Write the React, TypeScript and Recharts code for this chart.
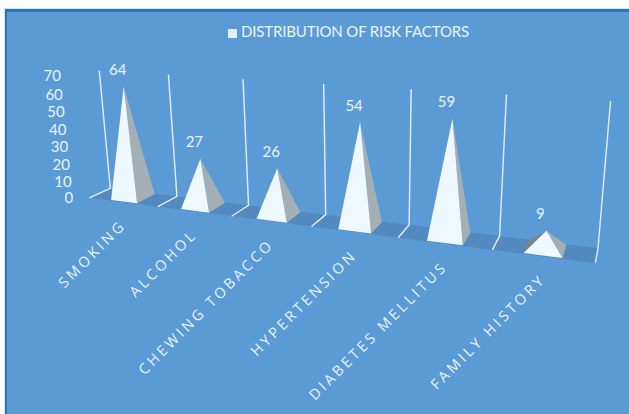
import React from "react";
import { BarChart, Bar, XAxis, YAxis, Legend, LabelList, Customized } from "recharts";

const categories = ["SMOKING", "ALCOHOL", "CHEWING TOBACCO", "HYPERTENSION", "DIABETES MELLITUS", "FAMILY HISTORY"];
const riskCounts = [64, 27, 26, 54, 59, 9];
const valueTicks = [0, 10, 20, 30, 40, 50, 60, 70];
const seriesName = "DISTRIBUTION OF RISK FACTORS";

const rows = categories.map((name, i) => ({ name, count: riskCounts[i] }));

const WIDTH = 629;
const HEIGHT = 414;
const AXIS_SIZE = 1;
const plotLeft = 14;
const plotTop = 60;
const plotWidth = 600;
const plotHeight = 294;
const margin = {
  top: plotTop,
  left: plotLeft - AXIS_SIZE,
  right: WIDTH - plotLeft - plotWidth,
  bottom: HEIGHT - plotTop - plotHeight - AXIS_SIZE,
};
const bandWidth = plotWidth / categories.length;

const FONT = "Lato, 'Open Sans', sans-serif";
const TEXT = "#EAF3FB";
const LINE = "#E3EEF8";

// Perspective camera: u runs along the categories, d from back wall (0) to
// front edge (1), h from floor (0) to top of the value range (1).
function project(u: number, d: number, h: number): [number, number] {
  const w = 1 - 0.03483 * u - 0.0372 * d - 0.0409 * h;
  const x = 110.3 + 60.46 * u - 24.3 * d - 15.06 * h;
  const y = 188.3 + 1.31 * u + 2.2 * d - 120.5 * h;
  return [x / w, y / w];
}

const toU = (px: number) => (px - plotLeft) / bandWidth;
const toH = (py: number) => (plotTop + plotHeight - py) / plotHeight;
const pts = (list: [number, number][]) => list.map((p) => p.join(",")).join(" ");

// Floor strip plus the slanted divider lines on the back wall.
function Walls() {
  const n = categories.length;
  const dividers = Array.from({ length: n + 1 }, (_, u) => u);
  return (
    <g>
      <polygon
        points={pts([project(0, 0, 0), project(n, 0, 0), project(n, 1, 0), project(0, 1, 0)])}
        fill="#5289BF"
      />
      {dividers.map((u) => (
        <polyline
          key={u}
          points={pts([project(u, 0, 1), project(u, 0, 0), project(u, 1, 0)])}
          fill="none"
          stroke={LINE}
          strokeWidth={1.4}
        />
      ))}
    </g>
  );
}

// Square-based pyramid standing on the floor, with its apex at the bar's value.
function Pyramid(props: any) {
  const { x, y, width } = props;
  const u0 = toU(x);
  const u1 = toU(x + width);
  const near = 0.95;
  const far = 0.05;
  const apex = project((u0 + u1) / 2, 0.5, toH(y));
  const fl = project(u0, near, 0);
  const fr = project(u1, near, 0);
  const bl = project(u0, far, 0);
  const br = project(u1, far, 0);
  return (
    <g>
      <polygon points={pts([bl, fl, apex])} fill="#7B878E" />
      <polygon points={pts([fr, br, apex])} fill="#A3AEB5" />
      <polygon points={pts([fl, fr, apex])} fill="#EEF9FF" />
    </g>
  );
}

function CategoryTick(props: any) {
  const { x, payload } = props;
  const [px, py] = project(toU(x), 1, 0);
  const tx = px + 4;
  const ty = py + 24;
  return (
    <text
      x={tx}
      y={ty}
      transform={`rotate(-45 ${tx} ${ty})`}
      textAnchor="end"
      fontFamily="'Open Sans', sans-serif"
      fontSize={14.5}
      letterSpacing={3.1}
      fill={TEXT}
    >
      {payload.value}
    </text>
  );
}

function ValueTick(props: any) {
  const { y, payload } = props;
  const [px, py] = project(0, 1, toH(y));
  return (
    <text x={px - 16} y={py + 5.5} textAnchor="end" fontFamily={FONT} fontSize={15} fill={TEXT}>
      {payload.value}
    </text>
  );
}

function ValueLabel(props: any) {
  const { x, y, width, value } = props;
  const [px, py] = project(toU(x + width / 2), 0.5, toH(y));
  return (
    <text x={px - 6} y={py - 11.5} textAnchor="middle" fontFamily={FONT} fontSize={15} fill={TEXT}>
      {value}
    </text>
  );
}

export default function App() {
  return (
    <div style={{ position: "absolute", left: 0, top: 0, width: WIDTH, height: HEIGHT, background: "#fff", overflow: "hidden" }}>
      <div
        style={{
          position: "absolute",
          left: 5,
          top: 9,
          width: 660,
          height: 440,
          background: "#5B9BD5",
          borderTop: "3px solid #2E75B6",
          borderLeft: "2px solid #2E75B6",
          outline: "1px solid #D5E3F0",
          boxSizing: "border-box",
        }}
      />
      <div style={{ position: "absolute", left: 0, top: 0 }}>
        <BarChart width={WIDTH} height={HEIGHT} data={rows} margin={margin} barCategoryGap="31%">
          <Customized component={Walls} />
          <XAxis dataKey="name" height={AXIS_SIZE} axisLine={false} tickLine={false} interval={0} tick={CategoryTick} />
          <YAxis width={AXIS_SIZE} domain={[0, 70]} ticks={valueTicks} axisLine={false} tickLine={false} tick={ValueTick} />
          <Legend
            layout="horizontal"
            verticalAlign="middle"
            align="center"
            iconType="square"
            iconSize={9}
            wrapperStyle={{ left: 221, top: 22, width: 265, fontFamily: FONT, fontSize: 15, whiteSpace: "nowrap", textAlign: "left" }}
            formatter={(v: string) => <span style={{ color: TEXT, letterSpacing: -0.15 }}>{v}</span>}
          />
          <Bar dataKey="count" name={seriesName} fill="#E4EFFA" shape={Pyramid} isAnimationActive={false}>
            <LabelList dataKey="count" content={ValueLabel} />
          </Bar>
        </BarChart>
      </div>
    </div>
  );
}
